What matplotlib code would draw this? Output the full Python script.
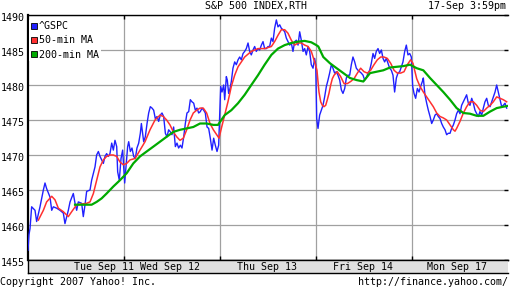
import matplotlib
matplotlib.use("Agg")
import matplotlib.pyplot as plt
import matplotlib.transforms as mtransforms
from matplotlib.lines import Line2D

# x in trading days since Tue Sep 11 open, y = index level
gspc_t = [0.000, 0.010, 0.021, 0.038, 0.073, 0.090, 0.125, 0.160, 0.177, 0.194, 0.229, 0.247, 0.264, 0.299,
          0.333, 0.368, 0.385, 0.420, 0.438, 0.472, 0.490, 0.507, 0.524, 0.559, 0.576, 0.594, 0.611, 0.646,
          0.663, 0.698, 0.715, 0.733, 0.750, 0.767, 0.785, 0.802, 0.819, 0.837, 0.854, 0.872, 0.889, 0.906,
          0.924, 0.934, 0.951, 0.969, 0.986,
          1.007, 1.021, 1.038, 1.049, 1.066, 1.083, 1.101, 1.118, 1.135, 1.153, 1.170, 1.181, 1.194, 1.205,
          1.222, 1.240, 1.257, 1.274, 1.292, 1.309, 1.326, 1.344, 1.361, 1.378, 1.396, 1.413, 1.431, 1.448,
          1.465, 1.483, 1.500, 1.517, 1.535, 1.552, 1.569, 1.587, 1.604, 1.622, 1.639, 1.656, 1.674, 1.691,
          1.708, 1.726, 1.743, 1.760, 1.778, 1.795, 1.813, 1.830, 1.847, 1.865, 1.882, 1.899, 1.917, 1.934,
          1.951, 1.969, 1.986,
          2.007, 2.021, 2.038, 2.049, 2.066, 2.076, 2.090, 2.101, 2.118, 2.135, 2.153, 2.170, 2.188, 2.205,
          2.222, 2.240, 2.257, 2.274, 2.292, 2.309, 2.326, 2.344, 2.361, 2.378, 2.396, 2.413, 2.431, 2.448,
          2.465, 2.483, 2.500, 2.517, 2.535, 2.552, 2.569, 2.587, 2.604, 2.622, 2.639, 2.656, 2.674, 2.691,
          2.708, 2.726, 2.743, 2.760, 2.778, 2.795, 2.813, 2.830, 2.847, 2.865, 2.882, 2.899, 2.917, 2.934,
          2.951, 2.969, 2.986, 2.997,
          3.007, 3.021, 3.038, 3.056, 3.073, 3.090, 3.108, 3.125, 3.142, 3.160, 3.177, 3.194, 3.212, 3.229,
          3.247, 3.264, 3.281, 3.299, 3.316, 3.333, 3.351, 3.368, 3.385, 3.403, 3.420, 3.438, 3.455, 3.472,
          3.490, 3.507, 3.524, 3.542, 3.559, 3.576, 3.594, 3.611, 3.628, 3.646, 3.663, 3.681, 3.698, 3.715,
          3.733, 3.750, 3.767, 3.785, 3.802, 3.819, 3.837, 3.854, 3.872, 3.889, 3.906, 3.924, 3.941, 3.958,
          3.976, 3.993,
          4.007, 4.021, 4.038, 4.056, 4.073, 4.090, 4.108, 4.118, 4.135, 4.153, 4.170, 4.188, 4.205, 4.222,
          4.240, 4.257, 4.274, 4.292, 4.309, 4.326, 4.344, 4.361, 4.378, 4.396, 4.413, 4.431, 4.448, 4.465,
          4.483, 4.500, 4.517, 4.535, 4.552, 4.569, 4.587, 4.604, 4.622, 4.639, 4.656, 4.674, 4.691, 4.708,
          4.726, 4.743, 4.760, 4.778, 4.795, 4.813, 4.830, 4.847, 4.865, 4.882, 4.899, 4.917, 4.934, 4.951,
          4.969, 4.986]
gspc_p = [1456.4, 1458.6, 1459.5, 1462.6, 1462.1, 1460.5, 1462.6, 1465.0, 1466.0, 1465.2, 1464.0, 1462.1, 1462.6, 1462.4,
          1462.1, 1461.7, 1460.2, 1462.1, 1463.3, 1464.5, 1463.1, 1462.1, 1463.3, 1463.1, 1461.2, 1462.9, 1464.8, 1465.0,
          1466.4, 1468.3, 1470.0, 1470.5, 1469.8, 1469.3, 1468.8, 1469.8, 1470.2, 1469.8, 1470.2, 1471.7, 1470.7, 1472.1,
          1471.2, 1467.6, 1466.4, 1469.5, 1470.7,
          1466.0, 1468.3, 1471.2, 1471.9, 1470.5, 1471.0, 1469.8, 1469.5, 1471.0, 1471.7, 1473.1, 1474.5, 1473.1, 1471.9,
          1472.6, 1474.5, 1476.0, 1476.9, 1476.7, 1476.4, 1475.2, 1475.5, 1474.8, 1475.7, 1476.0, 1475.5, 1473.1, 1472.6,
          1473.6, 1473.3, 1472.9, 1474.0, 1471.2, 1471.7, 1471.0, 1471.4, 1471.0, 1472.6, 1474.5, 1476.0, 1476.2, 1477.9,
          1477.6, 1477.4, 1476.4, 1476.7, 1476.0, 1476.2, 1476.7, 1476.4, 1476.0, 1474.0, 1473.8, 1472.4, 1470.7, 1472.4,
          1471.4, 1470.5, 1471.4,
          1479.8, 1479.0, 1480.0, 1477.9, 1481.2, 1480.7, 1478.8, 1479.3, 1480.5, 1482.4, 1483.3, 1482.9, 1483.6, 1484.0,
          1483.6, 1484.5, 1484.8, 1485.2, 1486.0, 1484.8, 1484.3, 1485.0, 1485.5, 1484.8, 1485.2, 1485.0, 1485.7, 1486.2,
          1485.2, 1485.2, 1485.5, 1485.5, 1486.7, 1486.2, 1488.1, 1489.3, 1488.3, 1488.6, 1488.1, 1487.9, 1487.6, 1486.7,
          1486.2, 1485.7, 1486.0, 1484.8, 1486.2, 1486.4, 1485.7, 1487.6, 1486.4, 1484.8, 1485.2, 1484.3, 1485.5, 1484.8,
          1482.9, 1482.4, 1483.8, 1482.9,
          1475.2, 1473.8, 1475.7, 1476.4, 1477.1, 1478.3, 1479.8, 1480.7, 1481.7, 1482.9, 1482.4, 1481.7, 1481.9, 1481.4,
          1480.7, 1479.3, 1478.8, 1479.5, 1481.0, 1481.4, 1481.4, 1482.9, 1484.0, 1483.3, 1482.4, 1482.1, 1481.9, 1481.7,
          1481.4, 1480.7, 1481.0, 1481.7, 1482.1, 1483.1, 1484.5, 1483.8, 1484.8, 1485.2, 1484.5, 1485.0, 1483.8, 1483.3,
          1483.8, 1483.1, 1482.4, 1482.1, 1481.4, 1479.0, 1481.0, 1481.7, 1481.9, 1482.6, 1483.3, 1484.8, 1485.7, 1484.3,
          1484.5, 1484.0,
          1479.8, 1478.8, 1478.1, 1479.5, 1479.0, 1479.8, 1480.5, 1481.0, 1478.6, 1477.4, 1476.4, 1475.5, 1474.5, 1475.0,
          1475.7, 1475.9, 1475.5, 1475.2, 1474.5, 1474.0, 1473.6, 1472.9, 1473.1, 1473.1, 1473.8, 1474.3, 1475.0, 1475.9,
          1476.4, 1475.9, 1477.1, 1477.6, 1478.1, 1478.6, 1477.4, 1477.1, 1478.1, 1477.4, 1476.4, 1475.9, 1475.5, 1476.2,
          1475.7, 1476.7, 1477.6, 1478.1, 1477.1, 1476.9, 1477.6, 1478.3, 1479.0, 1480.0, 1479.0, 1477.9, 1476.9, 1477.1,
          1477.4, 1476.7]

ma50_t = [0.108, 0.160, 0.194, 0.247, 0.281, 0.316, 0.368, 0.420, 0.455, 0.507, 0.559, 0.611, 0.646, 0.681,
          0.715, 0.750, 0.785, 0.819, 0.854, 0.889, 0.924, 0.958, 0.993, 1.028, 1.063, 1.115, 1.167, 1.219,
          1.271, 1.323, 1.375, 1.410, 1.444, 1.479, 1.514, 1.549, 1.583, 1.618, 1.653, 1.688, 1.722, 1.757,
          1.792, 1.826, 1.861, 1.896, 1.931, 1.965, 1.990,
          2.014, 2.049, 2.083, 2.118, 2.153, 2.188, 2.222, 2.257, 2.292, 2.326, 2.396, 2.465, 2.535, 2.569,
          2.604, 2.639, 2.674, 2.708, 2.743, 2.778, 2.813, 2.847, 2.882, 2.917, 2.951, 2.986, 3.010,
          3.031, 3.049, 3.066, 3.083, 3.101, 3.118, 3.135, 3.153, 3.170, 3.188, 3.222, 3.257, 3.292, 3.326,
          3.361, 3.396, 3.431, 3.465, 3.500, 3.535, 3.569, 3.604, 3.639, 3.674, 3.708, 3.743, 3.778, 3.813,
          3.847, 3.882, 3.917, 3.951, 3.986, 4.010,
          4.049, 4.083, 4.118, 4.153, 4.188, 4.222, 4.257, 4.292, 4.326, 4.361, 4.396, 4.431, 4.448, 4.465,
          4.500, 4.535, 4.569, 4.604, 4.639, 4.674, 4.708, 4.743, 4.778, 4.813, 4.847, 4.882, 4.917, 4.951,
          4.986]
ma50_p = [1460.7, 1462.1, 1463.3, 1464.1, 1463.6, 1462.4, 1461.9, 1461.2, 1461.9, 1462.9, 1463.0, 1463.1, 1463.3, 1464.5,
          1466.4, 1468.3, 1469.3, 1469.8, 1470.0, 1470.0, 1469.8, 1469.0, 1468.6, 1468.8, 1469.3, 1469.5, 1470.7, 1471.9,
          1473.6, 1475.0, 1475.7, 1475.5, 1475.0, 1474.3, 1473.3, 1472.6, 1472.1, 1472.4, 1473.6, 1475.0, 1476.0, 1476.4,
          1476.7, 1476.7, 1476.0, 1474.5, 1473.6, 1472.9, 1472.4,
          1473.8, 1475.7, 1477.6, 1479.8, 1481.4, 1482.6, 1483.3, 1484.0, 1484.4, 1484.8, 1485.2, 1485.2, 1485.5, 1486.2,
          1487.1, 1487.9, 1487.9, 1487.4, 1486.4, 1485.7, 1486.0, 1486.0, 1485.7, 1485.5, 1484.8, 1483.3, 1482.1,
          1479.0, 1477.6, 1477.1, 1476.9, 1477.1, 1477.9, 1478.8, 1480.0, 1480.9, 1481.4, 1481.9, 1481.2, 1480.2, 1480.2,
          1480.5, 1480.9, 1481.7, 1482.4, 1481.9, 1481.7, 1482.1, 1482.9, 1483.6, 1484.0, 1484.0, 1483.8, 1483.1, 1482.1,
          1481.7, 1481.7, 1481.9, 1482.9, 1483.6, 1483.1,
          1480.9, 1479.8, 1479.0, 1478.3, 1477.6, 1476.9, 1476.0, 1475.5, 1475.3, 1475.0, 1474.3, 1473.6, 1473.4, 1473.8,
          1474.8, 1476.0, 1476.9, 1477.6, 1477.6, 1477.1, 1476.4, 1476.2, 1476.7, 1477.1, 1477.6, 1478.3, 1478.1, 1477.9,
          1477.6]

ma200_t = [0.490, 0.542, 0.611, 0.663, 0.715, 0.767, 0.819, 0.889, 0.958, 1.028, 1.097, 1.167, 1.236, 1.306,
           1.375, 1.444, 1.514, 1.583, 1.653, 1.722, 1.792, 1.861, 1.931, 1.979,
           2.049, 2.118, 2.188, 2.257, 2.326, 2.396, 2.465, 2.535, 2.604, 2.674, 2.743, 2.813, 2.882, 2.951,
           3.003, 3.024, 3.076, 3.146, 3.215, 3.285, 3.354, 3.424, 3.493, 3.563, 3.632, 3.701, 3.771, 3.840,
           3.910, 3.979, 4.049, 4.118, 4.188, 4.257, 4.326, 4.396, 4.465, 4.535, 4.604, 4.674, 4.743, 4.813,
           4.882, 4.951, 4.993]
ma200_p = [1462.9, 1462.9, 1462.9, 1462.9, 1463.3, 1463.8, 1464.5, 1465.5, 1466.4, 1467.4, 1468.8, 1469.8, 1470.5, 1471.2,
           1471.9, 1472.6, 1473.3, 1473.6, 1473.8, 1474.0, 1474.5, 1474.5, 1474.3, 1474.3,
           1475.7, 1476.4, 1477.4, 1478.6, 1480.0, 1481.4, 1482.9, 1484.3, 1485.2, 1485.7, 1486.0, 1486.2, 1486.3, 1486.1,
           1485.7, 1485.5, 1484.0, 1483.1, 1482.4, 1481.7, 1481.0, 1480.7, 1480.5, 1481.7, 1481.9, 1482.1, 1482.5, 1482.6,
           1482.7, 1482.9, 1482.4, 1482.1, 1481.0, 1480.0, 1479.0, 1477.9, 1476.7, 1476.0, 1475.9, 1475.6, 1475.6, 1476.2,
           1476.7, 1476.9, 1477.0]

y_ticks = [1455, 1460, 1465, 1470, 1475, 1480, 1485, 1490]
day_bounds = [1, 2, 3, 4]
day_labels = ["Tue Sep 11", "Wed Sep 12", "Thu Sep 13", "Fri Sep 14", "Mon Sep 17"]
day_label_pos = [0.79, 1.48, 2.49, 3.49, 4.47]

MONO = "DejaVu Sans Mono"
FS = 7.2
W, H = 512, 288

fig = plt.figure(figsize=(W / 100, H / 100), dpi=100)
fig.patch.set_facecolor("white")

ax = fig.add_axes([28 / W, (H - 260) / H, 480 / W, 245 / H])
ax.set_xlim(0, 5)
ax.set_ylim(1455, 1490)

# grid
for yv in y_ticks:
    ax.axhline(yv, color="#a0a0a0", lw=0.9, zorder=1)
for xv in day_bounds:
    ax.axvline(xv, color="#a0a0a0", lw=0.9, zorder=1)

ax.plot(gspc_t, gspc_p, color="#2020ff", lw=1.0, zorder=3)
ax.plot(ma50_t, ma50_p, color="#ff3030", lw=1.1, zorder=4)
ax.plot(ma200_t, ma200_p, color="#00aa00", lw=1.6, zorder=5)

ax.set_xticks(day_bounds)
ax.set_yticks(y_ticks)
ax.tick_params(axis="x", which="both", direction="in", length=3, width=1, color="black",
               top=True, bottom=True, labelbottom=False, labeltop=False)
ax.tick_params(axis="y", which="both", direction="in", length=3, width=1, color="black",
               left=False, right=True, labelleft=True, labelright=False, pad=2)
# yahoo labels sit a couple of pixels below their gridline
shift = mtransforms.ScaledTranslation(0, -2 / 100, fig.dpi_scale_trans)
for lab in ax.get_yticklabels():
    lab.set_fontfamily(MONO)
    lab.set_fontsize(FS)
    lab.set_transform(lab.get_transform() + shift)
ax.spines["left"].set_linewidth(1.6)
ax.spines["top"].set_linewidth(1.0)
ax.spines["bottom"].set_linewidth(1.0)
ax.spines["right"].set_visible(False)

handles = [
    Line2D([], [], marker="s", linestyle="none", markersize=5, markerfacecolor="#2020ff", markeredgecolor="black", markeredgewidth=0.6),
    Line2D([], [], marker="s", linestyle="none", markersize=5, markerfacecolor="#ff3030", markeredgecolor="black", markeredgewidth=0.6),
    Line2D([], [], marker="s", linestyle="none", markersize=5, markerfacecolor="#00aa00", markeredgecolor="black", markeredgewidth=0.6),
]
leg = ax.legend(handles, ["^GSPC", "50-min MA", "200-min MA"], loc="upper left",
                bbox_to_anchor=(0.0, 0.985), prop={"family": MONO, "size": FS},
                frameon=True, facecolor="white", edgecolor="none", framealpha=1.0, fancybox=False,
                borderpad=0.15, borderaxespad=0.1, handlelength=0.6, handletextpad=0.25,
                labelspacing=0.42)
leg.set_zorder(10)

# date band under the plot
band = fig.add_axes([28 / W, (H - 273) / H, 480 / W, 13 / H])
band.set_facecolor("#e0e0e0")
band.set_xlim(0, 5)
band.set_ylim(0, 1)
band.set_xticks([])
band.set_yticks([])
for s in ["left", "bottom", "top"]:
    band.spines[s].set_linewidth(1.0)
band.spines["right"].set_visible(False)
for lab, xp in zip(day_labels, day_label_pos):
    band.text(xp, 0.45, lab, ha="center", va="center", family=MONO, fontsize=FS)

fig.text(256 / W, 1 - 6 / H, "S&P 500 INDEX,RTH", ha="center", va="center", family=MONO, fontsize=FS)
fig.text(506 / W, 1 - 6 / H, "17-Sep 3:59pm", ha="right", va="center", family=MONO, fontsize=FS)
fig.text(0 / W, 1 - 282 / H, "Copyright 2007 Yahoo! Inc.", ha="left", va="center", family=MONO, fontsize=FS)
fig.text(508 / W, 1 - 282 / H, "http://finance.yahoo.com/", ha="right", va="center", family=MONO, fontsize=FS)

fig.savefig("out.png", dpi=100)
